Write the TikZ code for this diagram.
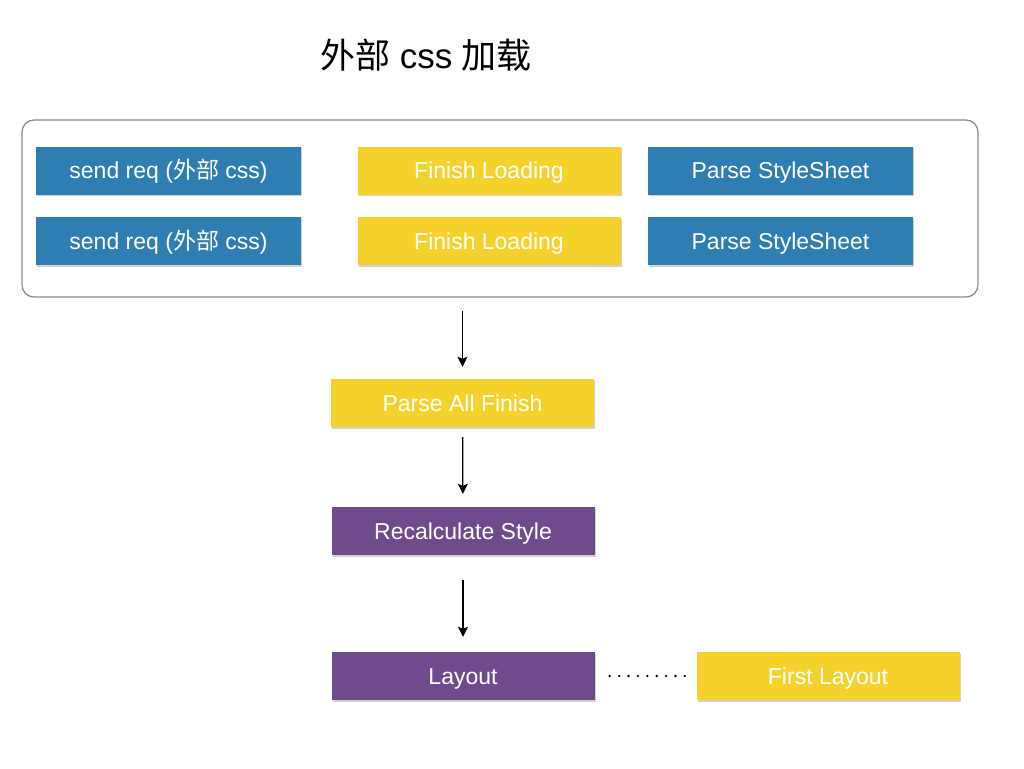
\documentclass[tikz,border=0pt]{standalone}
\usepackage{fontspec}
\setmainfont{Liberation Sans}
\newfontfamily\cjk{Noto Sans CJK SC}
\usetikzlibrary{positioning,shadows,arrows.meta}

\definecolor{reqblue}{HTML}{2F7EB3}
\definecolor{loadyellow}{HTML}{F5D22B}
\definecolor{calcpurple}{HTML}{6F4A8C}

\begin{document}
\begin{tikzpicture}[x=1pt,y=-1pt,
  box/.style={shape=rectangle,minimum width=263pt,minimum height=48pt,
    inner sep=0pt,text=white,font=\fontsize{23}{26}\selectfont,
    text height=16.5pt,text depth=0pt,
    drop shadow={shadow xshift=1pt,shadow yshift=-1.5pt,opacity=.3,fill=black!60}},
  reqbox/.style={box,fill=reqblue},
  loadbox/.style={box,fill=loadyellow},
  calcbox/.style={box,fill=calcpurple},
  flow/.style={-{Stealth[length=10pt,width=10pt,inset=2pt]},line width=1.3pt}]

  \useasboundingbox (0,0) rectangle (1024,768);

  \node (title) at (426,55) {\fontsize{35}{40}\selectfont{\cjk 外部} css {\cjk 加载}};

  \node [draw=black!45,line width=1.3pt,rounded corners=12pt,
         minimum width=956pt,minimum height=177pt] (group) at (500,208.5) {};

  % two loading rows
  \node [reqbox,minimum width=265pt] (req1) at (168.5,170.5) {send req ({\cjk 外部} css)};
  \node [loadbox] (load1) at (489,170.5) {Finish Loading};
  \node [reqbox,minimum width=265pt] (parse1) at (780.5,170.5) {Parse StyleSheet};

  \node [reqbox,minimum width=265pt] (req2) at (168.5,241) {send req ({\cjk 外部} css)};
  \node [loadbox] (load2) at (489,241) {Finish Loading};
  \node [reqbox,minimum width=265pt] (parse2) at (780.5,241) {Parse StyleSheet};

  \node [loadbox] (all) at (462.5,403) {Parse All Finish};
  \node [calcbox] (recalc) at (463,531) {Recalculate Style};
  \node [calcbox] (layout) at (463,676) {Layout};
  \node [loadbox] (first) at (828,676) {First Layout};

  \draw [flow,shorten <=13pt,shorten >=12pt] (all.north |- group.south) -- (all.north);
  \draw [flow,shorten <=10pt,shorten >=13pt] (all) -- (recalc);
  \draw [flow,shorten <=25pt,shorten >=15pt] (recalc) -- (layout);
  \draw [line width=2.6pt,line cap=round,dash pattern=on 0pt off 9.4pt,
         shorten <=15pt,shorten >=10pt] (layout) -- (first);

\end{tikzpicture}
\end{document}
